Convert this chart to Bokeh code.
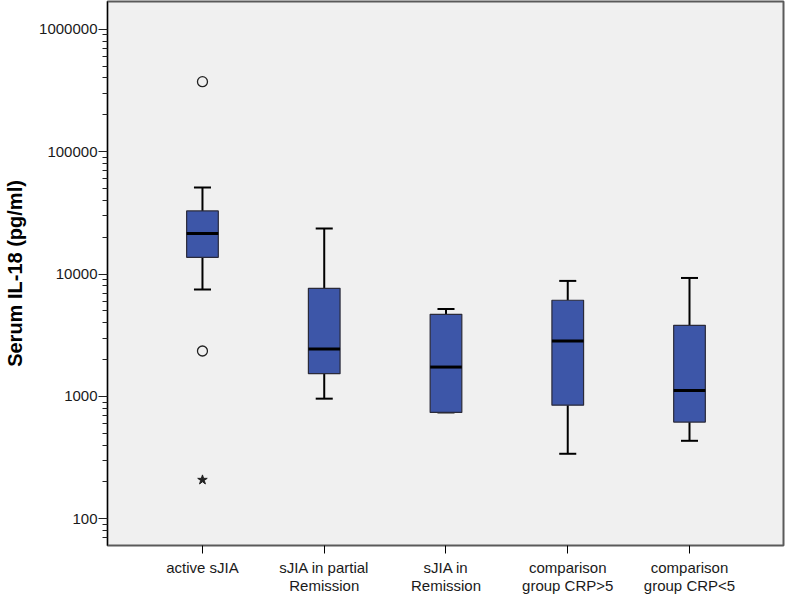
from bokeh.plotting import figure
from bokeh.models import Range1d, FixedTicker, NumeralTickFormatter
from bokeh.embed import file_html
from bokeh.resources import INLINE

# ---- data ----
groups = ["active sJIA", "sJIA in partial\nRemission", "sJIA in\nRemission",
          "comparison\ngroup CRP>5", "comparison\ngroup CRP<5"]
xpos = [0, 1, 2, 3, 4]
lower = [7470, 959, 740, 340, 434]
q1 = [13700, 1535, 740, 849, 617]
median = [21400, 2440, 1738, 2840, 1120]
q3 = [32800, 7650, 4690, 6110, 3810]
upper = [51000, 23600, 5180, 8790, 9290]
outlier_x = [0, 0]
outlier_y = [373000, 2350]
extreme_x = [0]
extreme_y = [208]
y_major_ticks = [100, 1000, 10000, 100000, 1000000]
y_minor_ticks = [k * 10 ** d for d in range(1, 7) for k in range(2, 10)]

BOX_W = 0.26
CAP_W = 0.14
FONT = "Liberation Sans"

p = figure(width=787, height=597, output_backend="svg", toolbar_location=None,
           x_range=Range1d(-0.780, 4.772),
           y_range=Range1d(10 ** 1.782, 10 ** 6.227), y_axis_type="log",
           min_border_left=107, min_border_right=4, min_border_top=1, min_border_bottom=52)

p.background_fill_color = "#f0f0f0"
p.border_fill_color = "white"
p.outline_line_color = "#5a5a5a"
p.outline_line_width = 2
p.xgrid.visible = False
p.ygrid.visible = False

# whiskers
p.segment(x0=xpos, y0=q3, x1=xpos, y1=upper, line_color="black", line_width=2)
p.segment(x0=xpos, y0=q1, x1=xpos, y1=lower, line_color="black", line_width=2)
# caps
cap_l = [x - CAP_W / 2 for x in xpos]
cap_r = [x + CAP_W / 2 for x in xpos]
p.segment(x0=cap_l, y0=upper, x1=cap_r, y1=upper, line_color="black", line_width=2)
p.segment(x0=cap_l, y0=lower, x1=cap_r, y1=lower, line_color="black", line_width=2)
# boxes
p.vbar(x=xpos, top=q3, bottom=q1, width=BOX_W, fill_color="#3d56a8",
       line_color="#2a2a3a", line_width=1.2)
# medians
box_l = [x - BOX_W / 2 for x in xpos]
box_r = [x + BOX_W / 2 for x in xpos]
p.segment(x0=box_l, y0=median, x1=box_r, y1=median, line_color="black", line_width=3)
# outliers
p.scatter(x=outlier_x, y=outlier_y, marker="circle", size=10, fill_color=None,
          line_color="#222222", line_width=1.3)
p.scatter(x=extreme_x, y=extreme_y, marker="star", size=10, fill_color="#222222",
          line_color="#222222", line_width=1)

# x axis
xa = p.xaxis[0]
xa.ticker = FixedTicker(ticks=xpos)
xa.major_label_overrides = {x: g for x, g in zip(xpos, groups)}
xa.minor_tick_line_color = None
xa.major_tick_out = 8
xa.major_tick_in = 0
xa.major_tick_line_color = "black"
xa.axis_line_color = None
xa.major_label_standoff = 5
xa.major_label_text_font = FONT
xa.major_label_text_font_size = "15px"
xa.major_label_text_color = "#1a1a1a"
xa.major_label_text_line_height = 1.1
xa.axis_label_standoff = 0

# y axis
ya = p.yaxis[0]
ya.ticker = FixedTicker(ticks=y_major_ticks, minor_ticks=y_minor_ticks)
ya.formatter = NumeralTickFormatter(format="0")
ya.major_tick_out = 9
ya.major_tick_in = 0
ya.minor_tick_out = 5
ya.minor_tick_in = 0
ya.major_tick_line_color = "#222222"
ya.minor_tick_line_color = "#222222"
ya.axis_line_color = "black"
ya.major_label_standoff = 1
ya.major_label_text_font = FONT
ya.major_label_text_font_size = "15px"
ya.major_label_text_color = "#1a1a1a"
ya.axis_label = "Serum IL-18 (pg/ml)"
ya.axis_label_text_font = FONT
ya.axis_label_text_font_style = "bold"
ya.axis_label_text_font_size = "20px"
ya.axis_label_text_color = "black"
ya.axis_label_standoff = 10

open("out.html", "w").write(file_html(p, INLINE))
